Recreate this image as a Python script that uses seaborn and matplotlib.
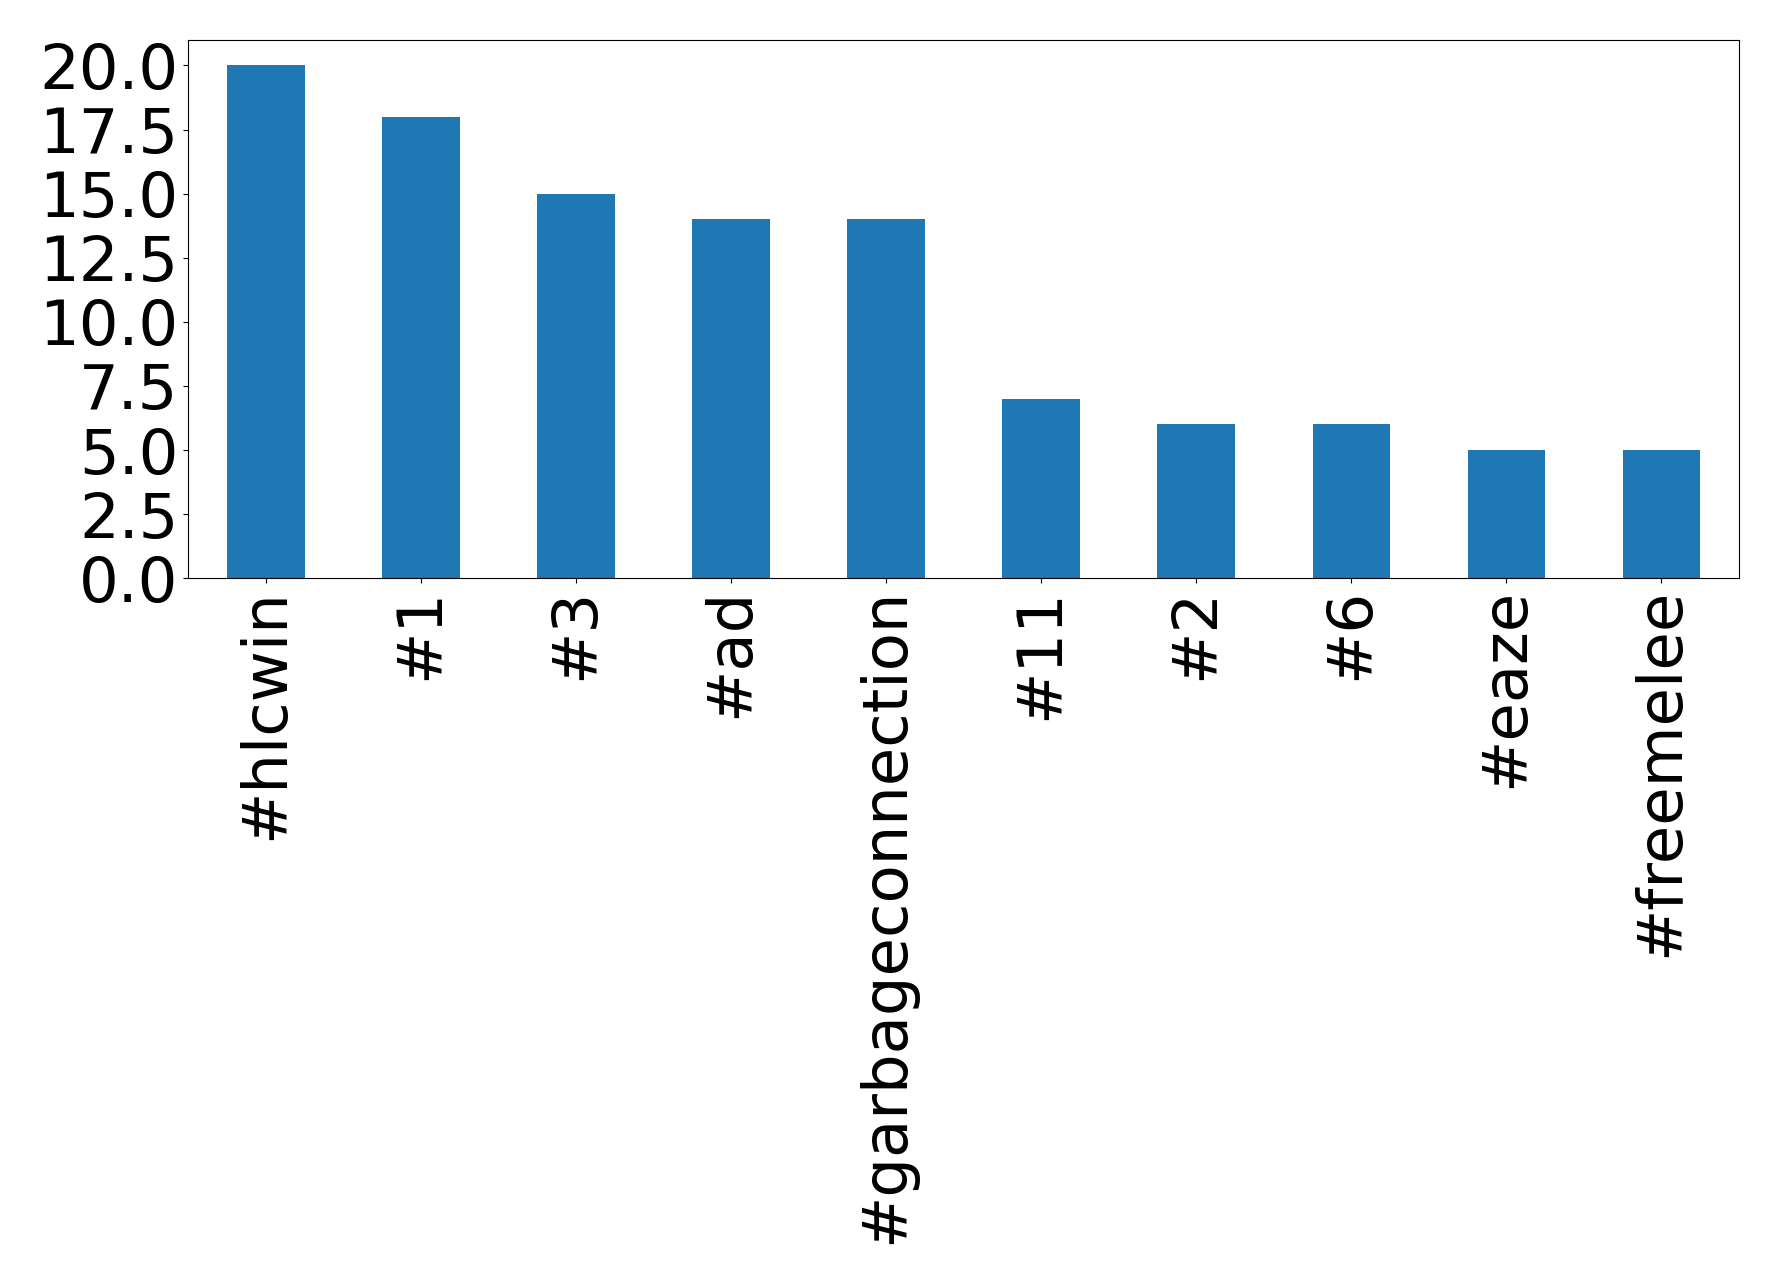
import pandas as pd
import seaborn as sns
import matplotlib.pyplot as plt

hashtags = ["#hlcwin", "#1", "#3", "#ad", "#garbageconnection",
            "#11", "#2", "#6", "#eaze", "#freemelee"]
counts = [20, 18, 15, 14, 14, 7, 6, 6, 5, 5]

df = pd.DataFrame({"hashtag": hashtags, "count": counts})

fig = plt.figure(figsize=(17.78, 12.85), dpi=100)
ax = fig.add_axes([0.106, 0.550, 0.872, 0.419])

sns.barplot(data=df, x="hashtag", y="count", color="#1f77b4",
            saturation=1, width=0.5, ax=ax)

ax.set_xlim(-0.5, len(hashtags) - 0.5)
ax.set_ylim(0, 21)
ax.set_xlabel("")
ax.set_ylabel("")
ax.set_yticks([0, 2.5, 5, 7.5, 10, 12.5, 15, 17.5, 20])
ax.set_yticklabels([f"{v:.1f}" for v in ax.get_yticks()])
ax.tick_params(axis="both", labelsize=45)
ax.tick_params(axis="x", rotation=90)

fig.savefig("out.png", dpi=100)
plt.close("all")
